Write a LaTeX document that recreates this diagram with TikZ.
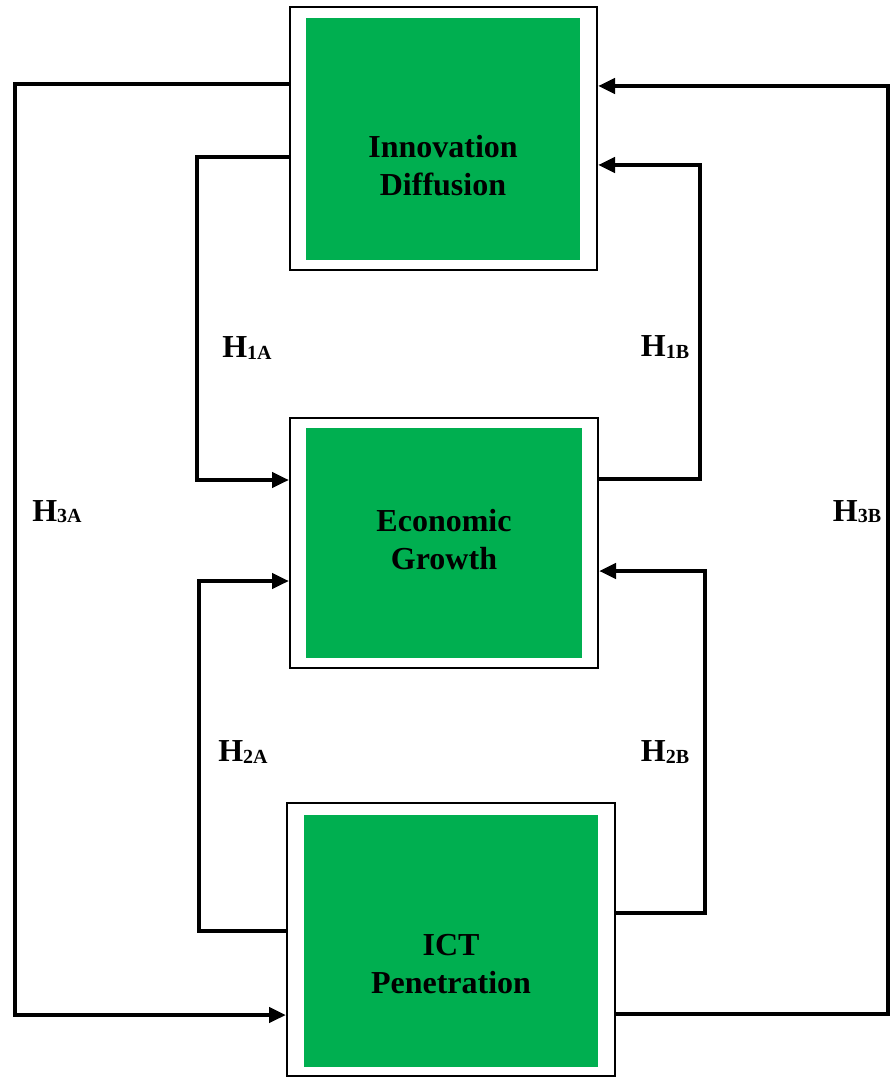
\documentclass[tikz,border=0pt]{standalone}
\usepackage{fontspec}
\setmainfont{Liberation Serif}
\usetikzlibrary{arrows.meta}
\definecolor{boxgreen}{HTML}{00AF50}
\newcommand{\hyp}[1]{H\raisebox{-0.6pt}{\fontsize{10}{10}\selectfont #1}}

\begin{document}
\begin{tikzpicture}[x=0.5pt,y=-0.5pt,font=\bfseries\fontsize{16}{19}\selectfont,
  frame/.style={draw=black,line width=1pt,fill=white,inner sep=0pt},
  core/.style={fill=boxgreen,inner sep=0pt},
  link/.style={line width=2.4pt},
  into/.style={link,-{Triangle[length=8.5pt,width=7.5pt]}}]
\useasboundingbox (0,0) rectangle (891,1079);
% the three boxes
\node[frame,minimum width=153.5pt,minimum height=131.5pt] (inno) at (443.5,138.5) {};
\node[core,minimum width=137pt,minimum height=121pt] (innocore) at (443,139) {};
\node[align=center] (innotext) at (443,166) {Innovation\\Diffusion};
\node[frame,minimum width=154pt,minimum height=125pt] (growth) at (444,543) {};
\node[core,minimum width=138pt,minimum height=115pt] (growthcore) at (444,543) {};
\node[align=center] (growthtext) at (444,540) {Economic\\Growth};
\node[frame,minimum width=164pt,minimum height=136.5pt] (ict) at (451,939.5) {};
\node[core,minimum width=147pt,minimum height=126pt] (ictcore) at (451,941) {};
\node[align=center] (icttext) at (451,964) {ICT\\Penetration};
% left side loops
\draw[into] (inno.west |- 0,84) -- (15,84) |- (ict.west |- 0,1015);
\draw[into] (inno.west |- 0,157) -- (197,157) |- (growth.west |- 0,480);
\draw[into] (ict.west |- 0,931) -- (199,931) |- (growth.west |- 0,581);
% right side loops
\draw[into] (growth.east |- 0,479) -- (700,479) |- (inno.east |- 0,165);
\draw[into] (ict.east |- 0,913) -- (705,913) |- (growth.east |- 0,571);
\draw[into] (ict.east |- 0,1014) -- (888,1014) |- (inno.east |- 0,86);
% hypothesis labels
\node (h1a) at (247,348) {\hyp{1A}};
\node (h1b) at (665,347) {\hyp{1B}};
\node (h2a) at (243,752) {\hyp{2A}};
\node (h2b) at (665,752) {\hyp{2B}};
\node (h3a) at (57,512) {\hyp{3A}};
\node (h3b) at (857,512) {\hyp{3B}};
\end{tikzpicture}
\end{document}
